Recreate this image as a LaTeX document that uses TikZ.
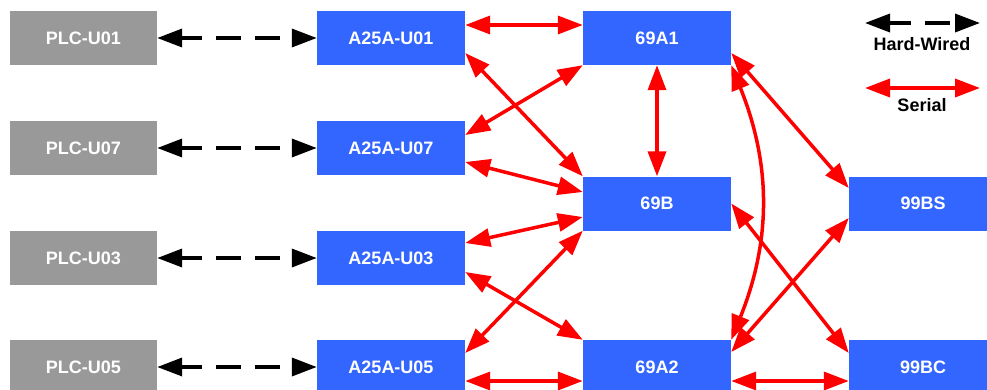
\documentclass[tikz,border=0pt]{standalone}
\usepackage{fontspec}
\setmainfont{Liberation Sans}
\usetikzlibrary{arrows.meta,calc}
\definecolor{unitblue}{HTML}{3366FF}
\definecolor{plcgray}{HTML}{999999}
\begin{document}
\begin{tikzpicture}[x=1pt,y=-1pt,
  box/.style={minimum width=148pt,minimum height=54pt,inner sep=0pt,
    text=white,font=\fontsize{18}{18}\selectfont\bfseries},
  plcbox/.style={box,fill=plcgray,minimum width=147pt},
  unitbox/.style={box,fill=unitblue},
  tip/.style={Triangle[length=25pt,width=18pt]},
  hardwired/.style={line width=3.5pt,black,dash pattern=on 25pt off 14pt,dash phase=4pt,
    {Triangle[length=25pt,width=18pt]}-{Triangle[length=25pt,width=18pt]}},
  serial/.style={line width=3.5pt,red,
    {Triangle[length=25pt,width=18pt]}-{Triangle[length=25pt,width=18pt]}},
  legendtext/.style={inner sep=0pt,font=\fontsize{18}{18}\selectfont\bfseries}]
\useasboundingbox (0,0) rectangle (987,389);
\clip (0,0) rectangle (987,389);

% PLC column
\node[plcbox] (p1) at (83.5,38) {PLC-U01};
\node[plcbox] (p7) at (83.5,148) {PLC-U07};
\node[plcbox] (p3) at (83.5,258) {PLC-U03};
\node[plcbox] (p5) at (83.5,367) {PLC-U05};

% A25A units
\node[unitbox] (u1) at (391,38) {A25A-U01};
\node[unitbox] (u7) at (391,148) {A25A-U07};
\node[unitbox] (u3) at (391,258) {A25A-U03};
\node[unitbox] (u5) at (391,367) {A25A-U05};

% 69 units
\node[unitbox] (s1) at (657,38) {69A1};
\node[unitbox] (sb) at (657,203.5) {69B};
\node[unitbox] (s2) at (657,367) {69A2};

% 99 units
\node[unitbox] (bs) at (923,203.5) {99BS};
\node[unitbox] (bc) at (923,367) {99BC};

% hard-wired links
\draw[hardwired] (p1.east) -- (u1.west);
\draw[hardwired] (p7.east) -- (u7.west);
\draw[hardwired] (p3.east) -- (u3.west);
\draw[hardwired] (p5.east) -- (u5.west);

% serial links, A25A to 69
\draw[serial] ([yshift=13pt]u1.east) -- ([yshift=13pt]s1.west);
\draw[serial] ([yshift=-15pt]u1.east) -- (sb.north west);
\draw[serial] ([yshift=13pt]u7.east) -- (s1.south west);
\draw[serial] ([yshift=-14pt]u7.east) -- ([yshift=11.5pt]sb.west);
\draw[serial] ([yshift=15pt]u3.east) -- ([yshift=-13.5pt]sb.west);
\draw[serial] ([yshift=-14pt]u3.east) -- (s2.north west);
\draw[serial] ([yshift=14pt]u5.east) -- (sb.south west);
\draw[serial] ([yshift=-14pt]u5.east) -- ([yshift=-14pt]s2.west);

% serial links among 69 and 99
\draw[serial] (s1.south) -- (sb.north);
\draw[serial] (s1.south east) to[bend left=22] (s2.north east);
\draw[serial] ([yshift=-15pt]s1.east) -- ([yshift=15.5pt]bs.west);
\draw[serial] (sb.east) -- ([yshift=14pt]bc.west);
\draw[serial] ([yshift=15pt]s2.east) -- ([yshift=-14.5pt]bs.west);
\draw[serial] ([yshift=-14pt]s2.east) -- ([yshift=-14pt]bc.west);

% legend
\coordinate (hwa) at (865,23);
\coordinate (hwb) at (980,23);
\coordinate (sra) at (865,88);
\coordinate (srb) at (980,88);
\draw[hardwired,dash phase=3pt] (hwa) -- (hwb);
\node[legendtext] (hwt) at (922,44) {Hard-Wired};
\draw[serial] (sra) -- (srb);
\node[legendtext] (srt) at (922,105) {Serial};
\end{tikzpicture}
\end{document}
